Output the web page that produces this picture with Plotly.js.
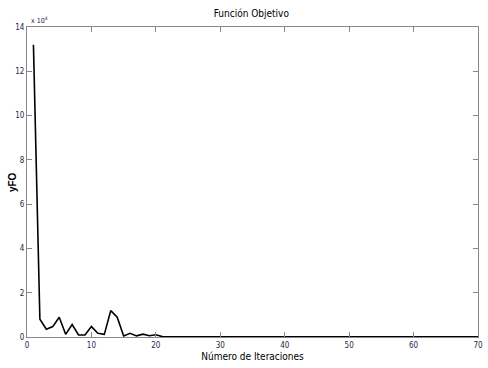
<!DOCTYPE html>
<html>
<head>
<meta charset="utf-8">
<script src="https://cdn.plot.ly/plotly-3.0.1.min.js"></script>
<style>html,body{margin:0;padding:0;background:#fff;}#chart{width:488px;height:368px;}</style>
</head>
<body>
<div id="chart"></div>
<script>
// Iteration numbers and objective function values (yFO)
var iterations = [];
for (var i = 1; i <= 70; i++) iterations.push(i);
var yFO = [132000, 8000, 3500, 4700, 8900, 1200, 5600, 900, 900, 4700,
           1700, 1200, 11900, 8900, 500, 1700, 500, 1300, 600, 1000,
           200, 150, 100, 100, 100, 100, 100, 100, 100, 100,
           100, 100, 100, 100, 100, 100, 100, 100, 100, 100,
           100, 100, 100, 100, 100, 100, 100, 100, 100, 100,
           100, 100, 100, 100, 100, 100, 100, 100, 100, 100,
           100, 100, 100, 100, 100, 100, 100, 100, 100, 100];
var yTickVals = [0, 20000, 40000, 60000, 80000, 100000, 120000, 140000];
var yTickText = ['0', '2', '4', '6', '8', '10', '12', '14'];
var xTickVals = [0, 10, 20, 30, 40, 50, 60, 70];

var narrow = 'DejaVu Sans Condensed, Liberation Sans Narrow, Arial Narrow, sans-serif';
var tickFont = {family: narrow, size: 8, color: '#26264a'};
var trace = {
  x: iterations, y: yFO, type: 'scatter', mode: 'lines',
  line: {color: '#000000', width: 1.6}
};
var layout = {
  width: 488, height: 368,
  margin: {l: 27, r: 10, t: 27, b: 31},
  paper_bgcolor: '#ffffff', plot_bgcolor: '#ffffff',
  showlegend: false,
  title: {text: 'Función Objetivo', x: 0.515, xanchor: 'center', y: 0.962, yanchor: 'middle',
          font: {family: narrow, size: 10, color: '#000'}},
  xaxis: {
    range: [0, 70], tickvals: xTickVals, ticktext: xTickVals.map(String),
    ticks: 'inside', ticklen: 5, tickcolor: '#888', tickwidth: 1,
    showline: true, linecolor: '#888', linewidth: 1, mirror: 'ticks',
    showgrid: false, zeroline: false, tickfont: tickFont,
    title: {text: 'Número de Iteraciones', standoff: 4,
            font: {family: narrow, size: 10, color: '#000'}}
  },
  yaxis: {
    range: [0, 140000], tickvals: yTickVals, ticktext: yTickText,
    ticks: 'inside', ticklen: 5, tickcolor: '#888', tickwidth: 1,
    showline: true, linecolor: '#888', linewidth: 1, mirror: 'ticks',
    showgrid: false, zeroline: false, tickfont: tickFont
  },
  annotations: [{
    text: 'x 10<sup>4</sup>', xref: 'paper', yref: 'paper', x: 0.005, y: 1.0, xanchor: 'left', yanchor: 'bottom',
    showarrow: false, font: {family: narrow, size: 7, color: '#26264a'}
  }, {
    text: '<b>yFO</b>', xref: 'paper', yref: 'paper', x: -0.033, y: 0.5, xanchor: 'center', yanchor: 'middle',
    textangle: -90, showarrow: false,
    font: {family: 'Liberation Sans, Arial, sans-serif', size: 10, color: '#000'}
  }]
};
Plotly.newPlot('chart', [trace], layout, {displayModeBar: false, staticPlot: true});
</script>
</body>
</html>
